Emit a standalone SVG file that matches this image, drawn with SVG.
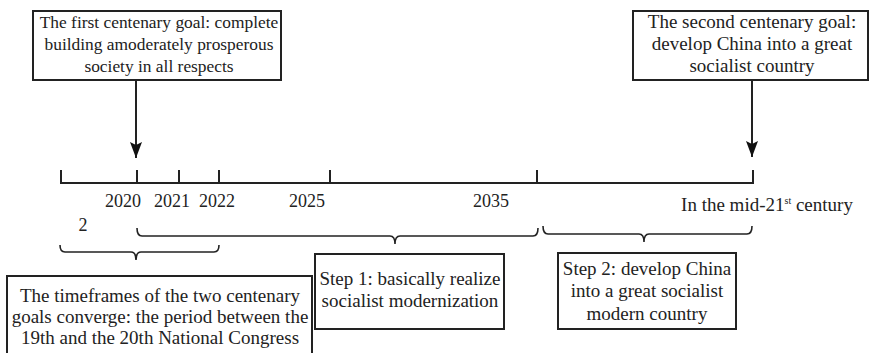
<svg xmlns="http://www.w3.org/2000/svg" width="870" height="353" viewBox="0 0 870 353">
<defs>
<style>
.box{fill:#fff;stroke:#222;stroke-width:2}
.t{font-family:"Liberation Serif","Times New Roman",serif;font-size:19px;fill:#222;text-anchor:middle}
.s{font-size:17.4px}
.y{font-family:"Liberation Serif","Times New Roman",serif;font-size:18px;fill:#222;text-anchor:middle}
.ln{fill:none;stroke:#222;stroke-width:2}
.br{fill:none;stroke:#222;stroke-width:1.6}
</style>
<marker id="arr" viewBox="0 0 16 12" refX="16" refY="6" markerWidth="16" markerHeight="12" orient="auto" markerUnits="userSpaceOnUse">
<path d="M0,0 L16,6 L0,12 L3,6 z" fill="#111"/>
</marker>
</defs>
<rect width="870" height="353" fill="#fff"/>

<g id="goal1">
<rect class="box" x="33" y="11" width="248" height="69"/>
<text class="t s" x="159" y="28">The first centenary goal: complete</text>
<text class="t s" x="159" y="50">building amoderately prosperous</text>
<text class="t s" x="159" y="72">society in all respects</text>
</g>

<g id="goal2">
<rect class="box" x="633" y="11" width="235" height="69"/>
<text class="t" x="752" y="28">The second centenary goal:</text>
<text class="t" x="752" y="50">develop China into a great</text>
<text class="t" x="752" y="72">socialist country</text>
</g>

<g id="timeline">
<path class="ln" d="M61,170 V183 H753 V170"/>
<path class="ln" d="M137,170 V183 M179,170 V183 M219,170 V183 M330,170 V183 M537,170 V183"/>
<text class="y" x="123" y="207">2020</text>
<text class="y" x="172" y="207">2021</text>
<text class="y" x="217" y="207">2022</text>
<text class="y" x="307" y="207">2025</text>
<text class="y" x="491" y="207">2035</text>
<text class="y" x="767" y="211" style="font-size:19px">In the mid-21<tspan font-size="10" dy="-7">st</tspan><tspan dy="7"> century</tspan></text>
<text class="y" x="83" y="231">2</text>
</g>

<g id="connectors">
<path class="ln" d="M136,80 V158" marker-end="url(#arr)"/>
<path class="ln" d="M752,80 V157" marker-end="url(#arr)"/>
<path class="br" d="M137,228 Q137,236 142,236 H390 Q395,236 395,244 Q395,236 400,236 H533 Q538,236 538,228"/>
<path class="br" d="M543,226 Q543,234 548,234 H639 Q644,234 644,242 Q644,234 649,234 H747 Q752,234 752,226"/>
<path class="br" d="M60,245 Q60,252 65,252 H131 Q136,252 136,260 Q136,252 141,252 H214 Q219,252 219,245"/>
</g>

<g id="converge">
<rect class="box" x="7" y="276" width="305" height="90"/>
<text class="t" x="160" y="302">The timeframes of the two centenary</text>
<text class="t" x="160" y="323">goals converge: the period between the</text>
<text class="t" x="160" y="344">19th and the 20th National Congress</text>
</g>

<g id="step1">
<rect class="box" x="315" y="254" width="189" height="75"/>
<text class="t" x="410" y="285">Step 1: basically realize</text>
<text class="t" x="410" y="307">socialist modernization</text>
</g>

<g id="step2">
<rect class="box" x="558" y="253" width="178" height="76"/>
<text class="t" x="647" y="275">Step 2: develop China</text>
<text class="t" x="647" y="297">into a great socialist</text>
<text class="t" x="647" y="320">modern country</text>
</g>
</svg>
